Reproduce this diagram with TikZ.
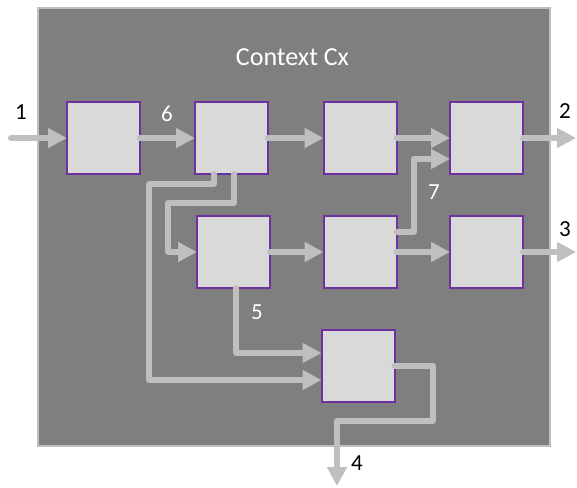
\documentclass[tikz,border=0pt]{standalone}
\usepackage{fontspec}
\setmainfont{Carlito}
\usetikzlibrary{arrows.meta}
\definecolor{bgc}{HTML}{7F7F7F}
\definecolor{linec}{HTML}{BFBFBF}
\definecolor{boxc}{HTML}{D9D9D9}
\definecolor{purp}{HTML}{7030A0}
\tikzset{
  blk/.style={draw=purp, line width=2pt, fill=boxc, minimum width=73pt, minimum height=72pt, inner sep=0pt, outer sep=0pt},
  conn/.style={draw=linec, line width=6pt, line cap=round, line join=round, -{Triangle[length=19pt,width=19pt]}},
  lblw/.style={text=white, font=\fontsize{23}{26}\selectfont, inner sep=0pt},
  lblk/.style={text=black, font=\fontsize{23}{26}\selectfont, inner sep=0pt},
}
\begin{document}
\begin{tikzpicture}[x=1pt,y=-1pt]
\useasboundingbox (0,0) rectangle (577,487);
\fill[white] (0,0) rectangle (577,487);
\node[draw=linec, line width=2pt, fill=bgc, minimum width=512pt, minimum height=438pt, inner sep=0pt, outer sep=0pt] (ctx) at (293.5,227) {};
\node[text=white, font=\fontsize{26}{30}\selectfont, inner sep=0pt] (title) at (292.5,57) {Context Cx};
% boxes
\node[blk] (A) at (103.5,138) {};
\node[blk] (B) at (231.5,138) {};
\node[blk] (C) at (360,138) {};
\node[blk] (D) at (486.5,138) {};
\node[blk] (E) at (233.5,252) {};
\node[blk] (F) at (360,252) {};
\node[blk] (G) at (486.5,252) {};
\node[blk] (H) at (358,366) {};
% free ends and bends
\coordinate (in1) at (11,138);
\coordinate (out2) at (576,138);
\coordinate (out3) at (576,252);
\coordinate (out4) at (337,486);
\coordinate (a1) at (149,184);
\coordinate (b1) at (168,203);
\coordinate (f1) at (414,232);
\coordinate (h1) at (433,421);
% connectors
\draw[conn] (in1) -- (A.west);
\draw[conn] (A.east) -- (B.west);
\draw[conn] (B.east) -- (C.west);
\draw[conn] (C.east) -- (D.west);
\draw[conn] (D.east) -- (out2);
\draw[conn] (E.east) -- (F.west);
\draw[conn] (F.east) -- (G.west);
\draw[conn] (G.east) -- (out3);
\draw[conn] ([yshift=20pt]F.east) -- (f1) |- ([yshift=-21pt]D.west);
\draw[conn] ([xshift=-17.5pt]B.south) |- (a1) |- ([yshift=-14pt]H.west);
\draw[conn] ([xshift=2.5pt]B.south) |- (b1) |- (E.west);
\draw[conn] ([xshift=2.5pt]E.south) |- ([yshift=13pt]H.west);
\draw[conn] (H.east) -| (h1) -| (out4);
% labels
\node[lblk] (l1) at (21,112) {1};
\node[lblw] (l6) at (167,114) {6};
\node[lblk] (l2) at (565,111) {2};
\node[lblk] (l3) at (565,229) {3};
\node[lblw] (l7) at (434,192) {7};
\node[lblw] (l5) at (257,312) {5};
\node[lblk] (l4) at (357,463) {4};
\end{tikzpicture}
\end{document}
